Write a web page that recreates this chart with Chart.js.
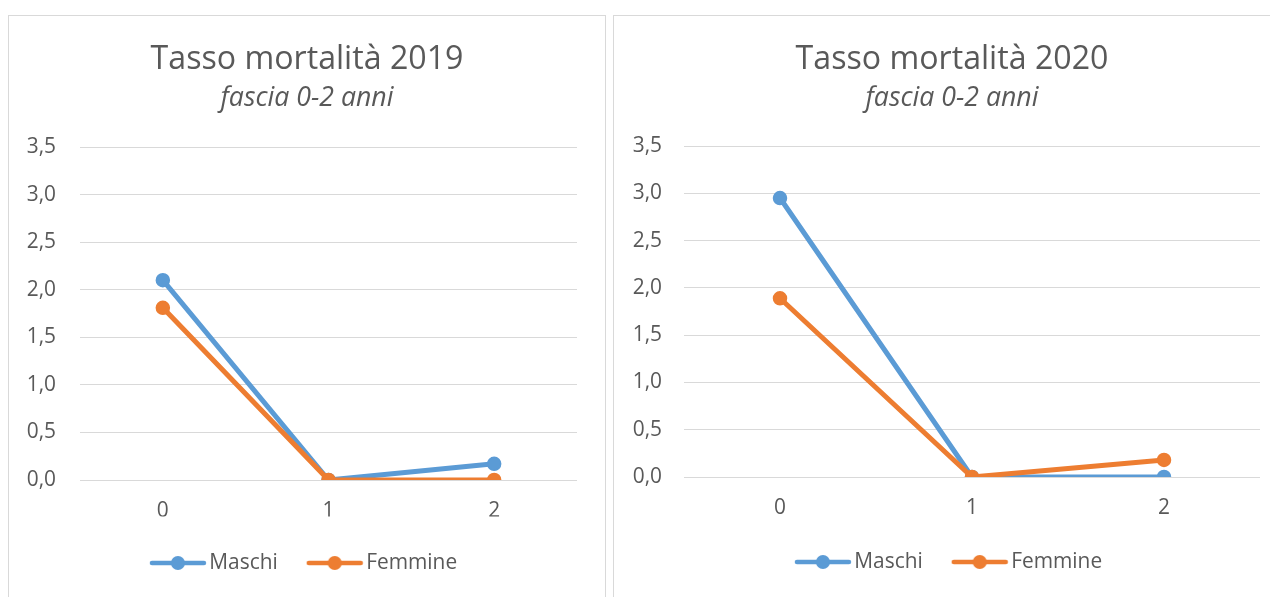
<!DOCTYPE html>
<html>
<head>
<meta charset="utf-8">
<script src="https://cdn.jsdelivr.net/npm/chart.js@4/dist/chart.umd.min.js"></script>
<style>
  html, body { margin: 0; padding: 0; background: #fff; overflow: hidden; }
  .panel { position: absolute; top: 15px; height: 620px; border: 1px solid #d9d9d9; background: #fff; }
  #p1 { left: 8px; width: 596px; }
  #p2 { left: 613px; width: 676px; }
  canvas { display: block; }
</style>
</head>
<body>
<div class="panel" id="p1"><canvas id="c2019" width="596" height="590"></canvas></div>
<div class="panel" id="p2"><canvas id="c2020" width="676" height="590"></canvas></div>
<script>
const categories = ['0', '1', '2'];
const seriesNames = ['Maschi', 'Femmine'];
const yTickLabels = ['0,0', '0,5', '1,0', '1,5', '2,0', '2,5', '3,0', '3,5'];
const maschi2019 = [2.1, 0, 0.17];
const femmine2019 = [1.81, 0, 0];
const maschi2020 = [2.95, 0, 0];
const femmine2020 = [1.89, 0, 0.18];
const subtitleText = 'fascia 0-2 anni';

const FONT = 'Open Sans';
const TEXT = '#595959';
const BLUE = '#5B9BD5';
const ORANGE = '#ED7D31';

// size a font so a string comes out at the width seen in the picture
function fitSize(text, style, target) {
    const g = document.createElement('canvas').getContext('2d');
    g.font = style + ' 100px "' + FONT + '"';
    return 100 * target / g.measureText(text).width;
}
const titleSize = fitSize('Tasso mortalità 2019', 'normal', 313);
const subSize = fitSize(subtitleText, 'italic', 173);
const smallSize = fitSize('Femmine', 'normal', 91);

// legend marker: line with a dot, like the office chart
function legendMark(color) {
    const c = document.createElement('canvas');
    c.width = 58; c.height = 16;
    const g = c.getContext('2d');
    g.strokeStyle = color; g.lineWidth = 4.5; g.lineCap = 'round';
    g.beginPath(); g.moveTo(3, 8); g.lineTo(55, 8); g.stroke();
    g.fillStyle = color;
    g.beginPath(); g.arc(29, 8, 7, 0, Math.PI * 2); g.fill();
    return c;
}
const marks = [legendMark(BLUE), legendMark(ORANGE)];

function makeChart(id, year, maschi, femmine, geo) {
    const legendPad = 36;
    const side = geo.width - geo.gridRight;
    const xAxisH = geo.legendMid - legendPad - smallSize / 2 - geo.bottom;
    const legendH = smallSize + legendPad + 10;
    const padBottom = geo.height - geo.bottom - xAxisH - legendH;

    const series = [maschi, femmine];
    const colors = [BLUE, ORANGE];
    const datasets = series.map((vals, i) => ({
        label: seriesNames[i],
        data: vals,
        borderColor: colors[i],
        backgroundColor: colors[i],
        pointBackgroundColor: colors[i],
        pointBorderColor: colors[i],
        pointRadius: 6.5,
        pointHoverRadius: 6.5,
        pointBorderWidth: 1.5,
        borderWidth: 5,
        borderCapStyle: 'round',
        borderJoinStyle: 'round',
        order: i === 0 ? 1 : 0
    }));

    return new Chart(document.getElementById(id), {
        type: 'line',
        data: {labels: categories, datasets: datasets},
        options: {
            responsive: false,
            animation: false,
            layout: {padding: {left: 0, right: 0, top: 0, bottom: padBottom}},
            plugins: {
                title: {
                    display: true,
                    text: 'Tasso mortalità ' + year,
                    color: TEXT,
                    font: {family: FONT, size: titleSize, weight: 'normal', lineHeight: '40px'},
                    padding: {top: 24, bottom: 0}
                },
                subtitle: {
                    display: true,
                    text: subtitleText,
                    color: TEXT,
                    font: {family: FONT, size: subSize, style: 'italic', lineHeight: '36px'},
                    padding: {top: 0, bottom: geo.top - 100}
                },
                legend: {
                    position: 'bottom',
                    labels: {
                        color: TEXT,
                        font: {family: FONT, size: smallSize},
                        usePointStyle: true,
                        pointStyleWidth: 42,
                        padding: legendPad,
                        sort: (a, b) => a.datasetIndex - b.datasetIndex,
                        generateLabels: chart => Chart.defaults.plugins.legend.labels.generateLabels(chart)
                            .map(l => Object.assign(l, {pointStyle: marks[l.datasetIndex]}))
                    }
                },
                tooltip: {enabled: false}
            },
            scales: {
                x: {
                    offset: true,
                    grid: {display: false, drawTicks: false},
                    border: {display: false},
                    ticks: {color: TEXT, padding: geo.xLabelMid - geo.bottom - 12,
                        font: {family: FONT, size: smallSize, lineHeight: '24px'}},
                    afterFit: s => { s.height = xAxisH; }
                },
                y: {
                    min: 0,
                    max: 3.5,
                    grid: {color: '#d9d9d9', lineWidth: 1, drawTicks: false},
                    border: {display: false},
                    ticks: {
                        stepSize: 0.5,
                        color: TEXT,
                        padding: geo.gridLeft - geo.labelRight,
                        font: {family: FONT, size: smallSize},
                        callback: (v, i) => yTickLabels[i]
                    },
                    afterFit: s => { s.width = geo.gridLeft; }
                },
                // empty right-hand axis, only keeps the white margin right of the plot
                yPad: {
                    position: 'right',
                    grid: {display: false, drawTicks: false},
                    border: {display: false},
                    ticks: {display: false},
                    afterFit: s => { s.width = side; }
                }
            }
        }
    });
}

makeChart('c2019', 2019, maschi2019, femmine2019,
    {width: 596, height: 590, gridLeft: 71, gridRight: 568, labelRight: 47, top: 131, bottom: 464, xLabelMid: 495, legendMid: 547});
makeChart('c2020', 2020, maschi2020, femmine2020,
    {width: 676, height: 590, gridLeft: 70, gridRight: 646, labelRight: 48, top: 130, bottom: 461, xLabelMid: 492, legendMid: 546});
</script>
</body>
</html>
